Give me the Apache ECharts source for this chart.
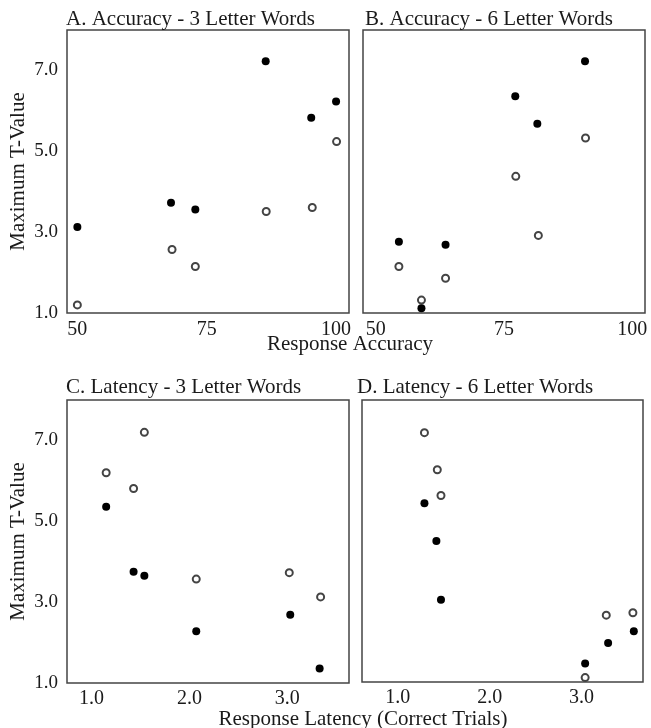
<!DOCTYPE html>
<html>
<head>
<meta charset="utf-8">
<script src="https://cdn.jsdelivr.net/npm/echarts@6/dist/echarts.min.js"></script>
<style>
  html, body { margin: 0; padding: 0; background: #fff; }
  #main { width: 651px; height: 728px; }
</style>
</head>
<body>
<div id="main"></div>
<script>
// panel titles
const panelTitles = [
  'A. Accuracy - 3 Letter Words',
  'B. Accuracy - 6 Letter Words',
  'C. Latency - 3 Letter Words',
  'D. Latency - 6 Letter Words'
];

// tick labels
const yTicks = [1, 3, 5, 7];
const accuracyTicks = [50, 75, 100];
const latencyTicks = [1, 2, 3];

// [response, max T-value]
const acc3Filled = [[50, 3.13], [68.1, 3.73], [72.8, 3.56], [86.4, 7.23], [95.2, 5.83], [100, 6.23]];
const acc3Open = [[50, 1.2], [68.3, 2.57], [72.8, 2.15], [86.5, 3.51], [95.4, 3.61], [100.1, 5.24]];
const acc6Filled = [[54.5, 2.76], [58.9, 1.12], [63.6, 2.69], [77.2, 6.36], [81.5, 5.68], [90.8, 7.23]];
const acc6Open = [[54.5, 2.15], [58.9, 1.32], [63.6, 1.86], [77.3, 4.38], [81.7, 2.92], [90.9, 5.33]];
const lat3Filled = [[1.15, 5.36], [1.43, 3.75], [1.54, 3.65], [2.07, 2.28], [3.03, 2.69], [3.33, 1.36]];
const lat3Open = [[1.15, 6.2], [1.43, 5.81], [1.54, 7.2], [2.07, 3.57], [3.02, 3.73], [3.34, 3.13]];
const lat6Filled = [[1.29, 5.44], [1.42, 4.5], [1.47, 3.04], [3.04, 1.46], [3.29, 1.97], [3.57, 2.26]];
const lat6Open = [[1.29, 7.19], [1.43, 6.27], [1.47, 5.63], [3.04, 1.11], [3.27, 2.66], [3.56, 2.72]];

const font = 'Liberation Serif';
const ink = '#1a1a1a';

const chart = echarts.init(document.getElementById('main'));

const grids = [
  { left: 67, top: 30, width: 282, height: 283 },
  { left: 363, top: 30, width: 282, height: 283 },
  { left: 67, top: 400, width: 282, height: 283 },
  { left: 362, top: 400, width: 281, height: 282 }
];
const xRanges = [[48, 102.5], [47.5, 102.5], [0.75, 3.63], [0.61, 3.67]];
const xTickSets = [accuracyTicks, accuracyTicks, latencyTicks, latencyTicks];
const filledSets = [acc3Filled, acc6Filled, lat3Filled, lat6Filled];
const openSets = [acc3Open, acc6Open, lat3Open, lat6Open];

const option = {
  backgroundColor: '#fff',
  animation: false,
  textStyle: { fontFamily: font, color: ink },
  title: [
    { text: panelTitles[0], left: 66, top: 9 },
    { text: panelTitles[1], left: 365, top: 9 },
    { text: panelTitles[2], left: 66, top: 377 },
    { text: panelTitles[3], left: 357, top: 377 },
    { text: 'Response Accuracy', left: 350, top: 334, textAlign: 'center' },
    { text: 'Response Latency (Correct Trials)', left: 363, top: 709, textAlign: 'center' }
  ].map(t => Object.assign({ padding: 0, textStyle: { fontFamily: font, fontSize: 21, fontWeight: 'normal', color: ink } }, t)),
  grid: grids.map(g => Object.assign({ show: true, borderColor: '#444', borderWidth: 1.5, backgroundColor: '#fff' }, g)),
  xAxis: grids.map((g, i) => ({
    type: 'value',
    gridIndex: i,
    min: xRanges[i][0],
    max: xRanges[i][1],
    axisLine: { show: false },
    axisTick: { show: false },
    splitLine: { show: false },
    axisLabel: {
      customValues: xTickSets[i],
      margin: i < 2 ? 7 : 6,
      fontFamily: font,
      fontSize: 20,
      color: ink,
      formatter: v => (i < 2 ? String(v) : v.toFixed(1))
    }
  })),
  yAxis: grids.map((g, i) => ({
    type: 'value',
    gridIndex: i,
    min: 1,
    max: 8,
    name: i % 2 === 0 ? 'Maximum T-Value' : '',
    nameLocation: 'middle',
    nameRotate: 90,
    nameGap: 38,
    nameTextStyle: { fontFamily: font, fontSize: 21, color: ink },
    axisLine: { show: false },
    axisTick: { show: false },
    splitLine: { show: false },
    axisLabel: {
      show: i % 2 === 0,
      customValues: yTicks,
      margin: 9,
      fontFamily: font,
      fontSize: 19,
      color: ink,
      formatter: v => v.toFixed(1)
    }
  })),
  series: []
};

for (let i = 0; i < 4; i++) {
  option.series.push({
    type: 'scatter',
    xAxisIndex: i,
    yAxisIndex: i,
    data: openSets[i],
    symbol: 'circle',
    symbolSize: 7,
    itemStyle: { color: '#fff', borderColor: '#444', borderWidth: 2, opacity: 1 }
  });
  option.series.push({
    type: 'scatter',
    xAxisIndex: i,
    yAxisIndex: i,
    data: filledSets[i],
    symbol: 'circle',
    symbolSize: 8,
    itemStyle: { color: '#000', opacity: 1 }
  });
}

chart.setOption(option);
</script>
</body>
</html>
